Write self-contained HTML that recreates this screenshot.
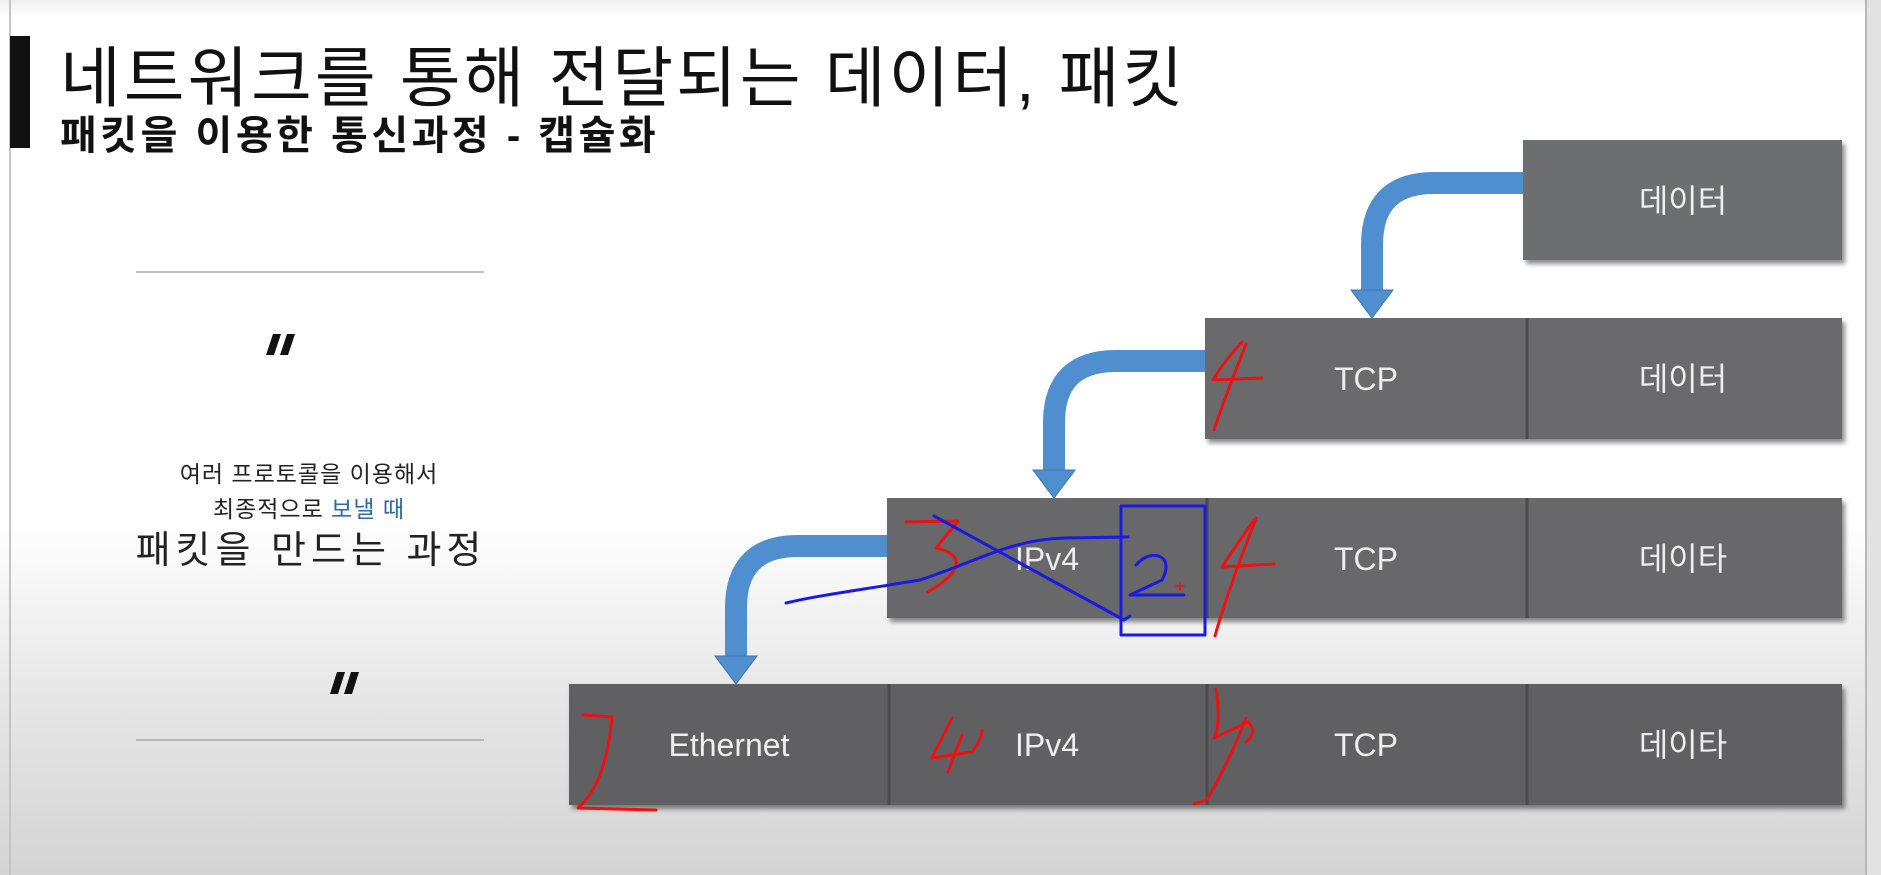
<!DOCTYPE html>
<html><head><meta charset="utf-8"><style>
html,body{margin:0;padding:0;}
body{width:1881px;height:875px;overflow:hidden;background:linear-gradient(#f0f0f0 0px,#fff 18px,#fff 520px,#e6e6e6 700px,#d4d4d4 875px);position:relative;font-family:"Liberation Sans","Noto Sans CJK KR",sans-serif;}
svg{position:absolute;left:0;top:0;}
</style></head><body>
<svg width="1881" height="875" viewBox="0 0 1881 875" xmlns="http://www.w3.org/2000/svg">
<defs>
<filter id="sh" x="-5%" y="-5%" width="115%" height="125%"><feDropShadow dx="3" dy="4" stdDeviation="2.5" flood-color="#000" flood-opacity="0.45"/></filter>
</defs>
<line x1="10" y1="0" x2="10" y2="875" stroke="#c4c4c4" stroke-width="2"/>
<rect x="1866" y="0" width="15" height="875" fill="#e2e2e2"/>
<line x1="1866" y1="0" x2="1866" y2="875" stroke="#b8b8b8" stroke-width="2"/>
<rect x="10" y="36" width="20" height="112" fill="#111"/>
<text x="60" y="101" font-size="66" letter-spacing="3" fill="#111" font-family="Liberation Sans,Noto Sans CJK KR,sans-serif">네트워크를 통해 전달되는 데이터, 패킷</text>
<text x="60" y="149" font-size="40" font-weight="bold" letter-spacing="3.5" fill="#111" font-family="Liberation Sans,Noto Sans CJK KR,sans-serif">패킷을 이용한 통신과정 - 캡슐화</text>
<line x1="136" y1="272" x2="484" y2="272" stroke="#aaa" stroke-width="1.5"/>
<line x1="136" y1="740" x2="484" y2="740" stroke="#aaa" stroke-width="1.5"/>
<g fill="#111"><polygon points="273,334 281,334 274,355 266,355"/><polygon points="287,334 295,334 288,355 280,355"/>
<polygon points="337,672 345,672 338,694 330,694"/><polygon points="351,672 359,672 352,694 344,694"/></g>
<g font-family="Liberation Sans,Noto Sans CJK KR,sans-serif" text-anchor="middle" fill="#222">
<text x="309" y="482" font-size="23" letter-spacing="1">여러 프로토콜을 이용해서</text>
<text x="309" y="517" font-size="23" letter-spacing="1">최종적으로 <tspan fill="#2e6aa6">보낼 때</tspan></text>
<text x="311" y="563" font-size="38" letter-spacing="5">패킷을 만드는 과정</text>
</g>
<g filter="url(#sh)">
<rect x="1523" y="140" width="319" height="120" fill="#6d6e70"/>
<rect x="1205" y="318" width="637" height="121" fill="#6a6b6d"/>
<rect x="887" y="498" width="955" height="120" fill="#67686a"/>
<rect x="569" y="684" width="1273" height="121" fill="#606163"/>
</g>
<g stroke="#4a4b4d" stroke-width="3">
<line x1="1527" y1="318" x2="1527" y2="439"/>
<line x1="1207" y1="498" x2="1207" y2="618"/><line x1="1527" y1="498" x2="1527" y2="618"/>
<line x1="889" y1="684" x2="889" y2="805"/><line x1="1207" y1="684" x2="1207" y2="805"/><line x1="1527" y1="684" x2="1527" y2="805"/>
</g>
<g font-family="Liberation Sans,Noto Sans CJK KR,sans-serif" font-size="32" fill="#eeeeee" text-anchor="middle">
<text x="1683" y="212">데이터</text>
<text x="1366" y="390">TCP</text><text x="1683" y="390">데이터</text>
<text x="1047" y="570">IPv4</text><text x="1366" y="570">TCP</text><text x="1683" y="570">데이타</text>
<text x="729" y="756">Ethernet</text><text x="1047" y="756">IPv4</text><text x="1366" y="756">TCP</text><text x="1683" y="756">데이타</text>
</g>
<g fill="none" stroke="#4f8fcf" stroke-width="22">
<path d="M1523,183 L1434,183 Q1372,183 1372,245 L1372,292"/>
<path d="M1205,361 L1116,361 Q1054,361 1054,423 L1054,472"/>
<path d="M887,546 L798,546 Q736,546 736,608 L736,658"/>
</g>
<g fill="#4f8fcf" stroke="#3d74ab" stroke-width="1">
<polygon points="1351,290 1393,290 1372,318"/>
<polygon points="1033,470 1075,470 1054,498"/>
<polygon points="715,656 757,656 736,684"/>
</g>
<g fill="none" stroke="#ee1111" stroke-width="3" stroke-linecap="round" stroke-linejoin="round">
<path d="M1242,342 C1230,355 1220,368 1213,380 L1262,378"/>
<path d="M1246,344 C1232,380 1222,405 1214,430"/>
<path d="M906,522 L958,521 L936,548 C966,555 962,572 928,592"/>
<path d="M1254,520 C1240,540 1226,560 1222,567 L1274,564"/>
<path d="M1256,518 C1240,560 1225,600 1215,636"/>
<path d="M583,715 L612,717 C608,760 598,790 578,808 L656,810"/>
<path d="M952,718 C944,735 935,750 932,758 L972,752 C978,744 982,738 982,730"/>
<path d="M962,735 L948,772"/>
<path d="M1216,689 C1220,715 1218,730 1214,738 L1248,722 C1256,730 1252,738 1246,742"/>
<path d="M1246,718 C1230,760 1215,785 1207,800 L1194,804"/>
<path d="M1176,586 L1184,586 M1180,582 L1180,590" stroke-width="1.5"/>
</g>
<g fill="none" stroke="#1a1ae0" stroke-width="3" stroke-linecap="round" stroke-linejoin="round">
<rect x="1121" y="506" width="84" height="129"/>
<path d="M934,516 L1124,620 L1130,616"/>
<path d="M1128,537 L1064,538 C1010,540 980,560 920,580 C860,590 820,595 786,603"/>
<path d="M1136,565 C1150,548 1176,554 1162,580 L1130,595 L1184,595"/>
</g>
</svg>
</body></html>
